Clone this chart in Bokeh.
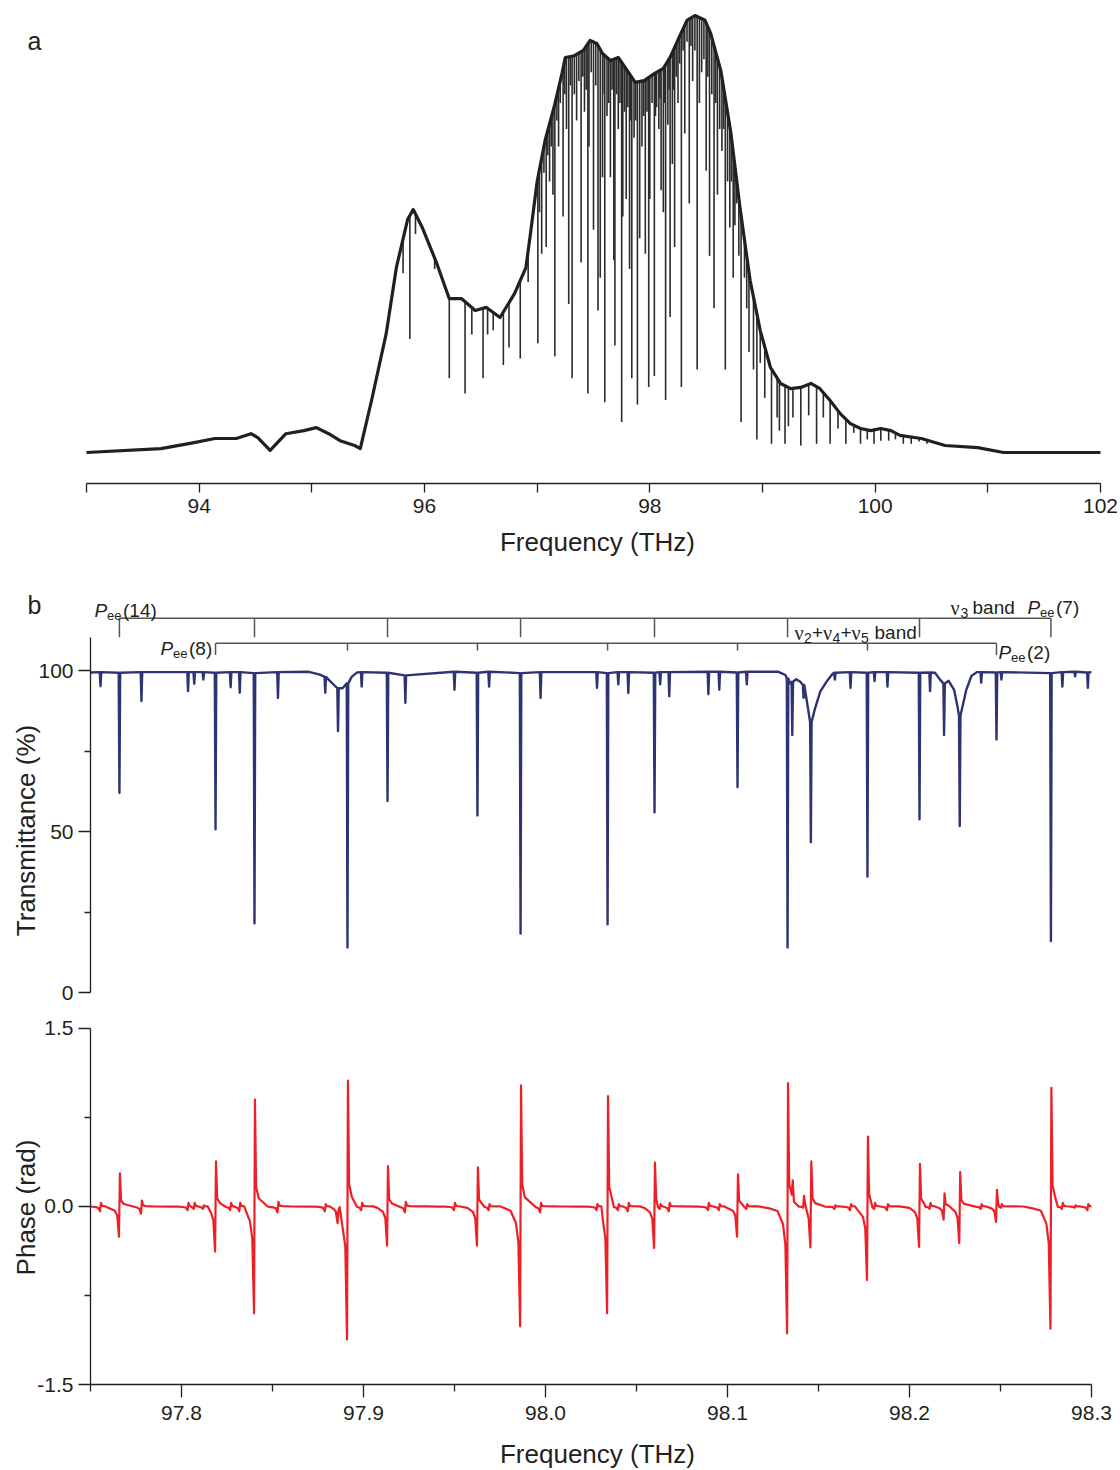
import numpy as np
from bokeh.plotting import figure
from bokeh.layouts import column
from bokeh.models import Range1d, FixedTicker, Label, PrintfTickFormatter
from bokeh.embed import file_html
from bokeh.resources import INLINE

# ---------------- DATA ----------------
# Panel a: spectral envelope (THz, a.u.)
env_freq = [93.00, 93.66, 93.92, 94.14, 94.33, 94.46, 94.52, 94.63, 94.77, 94.93,
            95.04, 95.15, 95.25, 95.38, 95.43, 95.53, 95.66, 95.75, 95.85, 95.90,
            95.98, 96.11, 96.22, 96.33, 96.45, 96.55, 96.67, 96.80, 96.90, 96.94,
            97.00, 97.07, 97.15, 97.22, 97.25, 97.33, 97.41, 97.47, 97.53, 97.58,
            97.65, 97.72, 97.80, 97.87, 97.95, 98.04, 98.12, 98.18, 98.26, 98.33,
            98.40, 98.49, 98.54, 98.63, 98.72, 98.80, 98.89, 98.98, 99.07, 99.16,
            99.25, 99.34, 99.43, 99.51, 99.60, 99.69, 99.78, 99.87, 99.96, 100.05,
            100.14, 100.22, 100.41, 100.62, 100.91, 101.14, 102.00]
env_int = [0.000, 0.009, 0.021, 0.032, 0.032, 0.043, 0.034, 0.005, 0.043, 0.050,
           0.057, 0.043, 0.027, 0.016, 0.009, 0.119, 0.272, 0.423, 0.533, 0.556,
           0.515, 0.432, 0.352, 0.352, 0.325, 0.332, 0.309, 0.364, 0.423, 0.500,
           0.620, 0.714, 0.790, 0.867, 0.904, 0.908, 0.920, 0.943, 0.936, 0.913,
           0.897, 0.904, 0.874, 0.847, 0.851, 0.867, 0.879, 0.904, 0.950, 0.989,
           1.000, 0.989, 0.959, 0.874, 0.730, 0.561, 0.394, 0.279, 0.195, 0.158,
           0.146, 0.149, 0.158, 0.146, 0.119, 0.089, 0.066, 0.055, 0.050, 0.055,
           0.050, 0.039, 0.032, 0.016, 0.011, 0.000, 0.000]

# Panel a: absorption lines (THz, bottom of the line in a.u.)
abs_freq = [95.81, 95.87, 95.92, 96.09, 96.22, 96.36, 96.42, 96.52, 96.56, 96.61,
            96.70, 96.75, 96.85, 96.92, 97.006, 97.04, 97.08, 97.11, 97.14, 97.157,
            97.19, 97.23, 97.26, 97.28, 97.31, 97.35, 97.39, 97.42, 97.45, 97.46,
            97.50, 97.54, 97.56, 97.58, 97.60, 97.62, 97.65, 97.68, 97.69, 97.72,
            97.75, 97.76, 97.79, 97.82, 97.84, 97.86, 97.89, 97.91, 97.93, 97.96,
            97.99, 98.00, 98.04, 98.06, 98.08, 98.10, 98.12, 98.14, 98.16, 98.18,
            98.20, 98.22, 98.25, 98.28, 98.31, 98.35, 98.38, 98.42, 98.44, 98.46,
            98.50, 98.53, 98.57, 98.60, 98.62, 98.64, 98.67, 98.69, 98.71, 98.74,
            98.77, 98.79, 98.81, 98.84, 98.86, 98.88, 98.92, 98.95, 98.98, 99.02,
            99.08, 99.13, 99.15, 99.20, 99.23, 99.27, 99.34, 99.41, 99.48, 99.54,
            99.60, 99.67, 99.74, 99.81, 99.87, 99.93, 99.99, 100.05, 100.12, 100.18,
            100.25, 100.32, 100.39, 100.46,
            97.02, 97.06, 97.095, 97.125, 97.175, 97.205, 97.245, 97.295, 97.33, 97.37,
            97.405, 97.435, 97.48, 97.52, 97.595, 97.635, 97.665, 97.705, 97.735, 97.775,
            97.805, 97.83, 97.875, 97.945, 97.975, 98.02, 98.05, 98.09, 98.13, 98.17,
            98.21, 98.235, 98.265, 98.295, 98.33, 98.365, 98.40, 98.48, 98.515, 98.55,
            98.585, 98.655, 98.725, 98.755]
abs_int = [0.41, 0.26, 0.50, 0.42, 0.17, 0.135, 0.27, 0.17, 0.27, 0.28,
           0.20, 0.24, 0.215, 0.39, 0.25, 0.455, 0.47, 0.62, 0.59, 0.22,
           0.70, 0.54, 0.74, 0.34, 0.17, 0.76, 0.435, 0.78, 0.135, 0.70,
           0.51, 0.325, 0.40, 0.63, 0.115, 0.77, 0.63, 0.44, 0.245, 0.74,
           0.07, 0.54, 0.58, 0.42, 0.17, 0.72, 0.11, 0.49, 0.70, 0.455,
           0.15, 0.58, 0.175, 0.79, 0.74, 0.60, 0.55, 0.12, 0.75, 0.31,
           0.66, 0.47, 0.80, 0.15, 0.73, 0.57, 0.85, 0.19, 0.80, 0.87,
           0.645, 0.45, 0.33, 0.59, 0.74, 0.69, 0.19, 0.62, 0.515, 0.40,
           0.57, 0.45, 0.07, 0.40, 0.33, 0.23, 0.19, 0.03, 0.205, 0.125,
           0.02, 0.08, 0.05, 0.02, 0.06, 0.08, 0.016, 0.085, 0.02, 0.08,
           0.02, 0.055, 0.02, 0.045, 0.02, 0.03, 0.02, 0.027, 0.027, 0.03,
           0.02, 0.02, 0.025, 0.02,
           0.55, 0.64, 0.68, 0.70, 0.76, 0.80, 0.82, 0.84, 0.82, 0.85,
           0.86, 0.83, 0.87, 0.84, 0.82, 0.80, 0.83, 0.82, 0.80, 0.78,
           0.79, 0.76, 0.76, 0.77, 0.78, 0.80, 0.77, 0.81, 0.80, 0.83,
           0.83, 0.86, 0.89, 0.92, 0.94, 0.93, 0.92, 0.90, 0.86, 0.82,
           0.80, 0.74, 0.62, 0.52]

# Panel b: absorption features (THz), transmittance minimum and local shoulder (%)
trans_freq = [97.7555, 97.7659, 97.7780, 97.8036, 97.8070, 97.8120, 97.8187, 97.8270, 97.8320, 97.8401,
              97.8530, 97.8790, 97.8860, 97.8912, 97.8990, 97.9132, 97.9230, 97.9500, 97.9626, 97.9690,
              97.9863, 97.9973, 98.0283, 98.0341, 98.0400, 98.0455, 98.0599, 98.0630, 98.0680, 98.0895,
              98.0955, 98.1055, 98.1106, 98.1330, 98.1356, 98.1418, 98.1458, 98.1590, 98.1676, 98.1769,
              98.1808, 98.1879, 98.2055, 98.2113, 98.2190, 98.2276, 98.2394, 98.2478, 98.2505, 98.2777,
              98.2840, 98.2910, 98.2980]
trans_min = [95.1, 62.0, 90.5, 93.6, 95.9, 97.2, 50.7, 94.8, 93.1, 21.5,
             91.5, 93.1, 81.2, 14.0, 95.0, 59.5, 90.0, 94.0, 55.0, 95.0,
             18.3, 91.5, 94.6, 21.2, 95.7, 93.0, 56.0, 95.7, 92.0, 92.6,
             94.0, 63.8, 95.7, 14.0, 80.0, 91.5, 46.7, 97.2, 94.6, 36.0,
             96.7, 95.0, 53.8, 93.6, 80.0, 51.7, 96.2, 78.6, 97.2, 16.0,
             95.0, 98.2, 94.6]
trans_top = [99.5, 99.3, 99.5, 99.5, 99.5, 99.5, 99.3, 99.5, 99.5, 99.2,
             99.5, 98.0, 94.5, 96.0, 99.5, 99.3, 98.5, 99.6, 99.3, 99.6,
             99.2, 99.5, 99.5, 99.2, 99.5, 99.5, 99.3, 99.5, 99.5, 99.6,
             99.6, 99.4, 99.6, 97.5, 96.5, 95.5, 84.0, 99.3, 99.5, 99.3,
             99.5, 99.5, 99.3, 99.4, 96.0, 86.0, 99.5, 99.4, 99.5, 99.2,
             99.5, 99.6, 99.4]
# slowly varying baseline / broad wings of the transmittance trace (THz, %)
base_freq = [97.7500, 97.8700, 97.8760, 97.8815, 97.8838, 97.8885, 97.8935, 97.8965,
             98.1280, 98.1318, 98.1343, 98.1378, 98.1400, 98.1436, 98.1480, 98.1510, 98.1550, 98.1578,
             98.2140, 98.2170, 98.2215, 98.2245, 98.2263, 98.2292, 98.2312, 98.2340, 98.2370, 98.3000]
base_val = [99.4, 99.6, 98.7, 96.8, 95.5, 94.5, 98.0, 99.4,
            99.6, 98.6, 96.0, 97.3, 96.5, 90.5, 88.0, 93.5, 97.0, 99.0,
            99.3, 97.0, 96.8, 94.0, 89.0, 89.0, 94.0, 98.3, 99.5, 99.5]

# Panel b: phase excursions at each feature (rad)
phase_max = [0.03, 0.28, 0.05, 0.03, 0.03, 0.01, 0.38, 0.03, 0.03, 0.90,
             0.04, 0.02, -0.03, 1.06, 0.03, 0.34, 0.04, 0.03, 0.33, 0.02,
             1.02, 0.03, 0.02, 0.93, 0.02, 0.03, 0.37, 0.02, 0.03, 0.03,
             0.02, 0.27, 0.02, 1.04, 0.22, 0.09, 0.38, 0.01, 0.02, 0.59,
             0.03, 0.02, 0.36, 0.03, 0.11, 0.29, 0.02, 0.14, 0.02, 1.00,
             0.03, 0.01, 0.02]
phase_min = [-0.04, -0.255, -0.06, -0.03, -0.02, -0.02, -0.38, -0.03, -0.04, -0.90,
             -0.05, -0.04, -0.14, -1.12, -0.03, -0.33, -0.05, -0.03, -0.33, -0.03,
             -1.01, -0.05, -0.03, -0.90, -0.03, -0.04, -0.35, -0.02, -0.04, -0.03,
             -0.03, -0.255, -0.02, -1.07, 0.10, -0.01, -0.345, -0.02, -0.03, -0.62,
             -0.02, -0.03, -0.34, -0.02, -0.11, -0.31, -0.02, -0.13, -0.01, -1.03,
             -0.02, -0.01, -0.03]

# line assignments
nu3_lines = [97.7659, 97.8401, 97.9132, 97.9863, 98.0599, 98.1330, 98.2055, 98.2777]   # Pee(14)..Pee(7)
comb_lines = [97.8187, 97.8912, 97.9626, 98.0341, 98.1055, 98.1769, 98.2478]           # Pee(8)..Pee(2)

# ---------------- styling ----------------
INK = "#231f20"
FONT = "Liberation Sans"
SERIF = "Liberation Serif"
NAVY = "#2e3473"
RED = "#ee2027"
BRK = "#555555"
W = 1118


def style_axis(ax, tick_out, minor_out, standoff=5):
    ax.axis_line_color = INK
    ax.axis_line_width = 1.3
    ax.major_tick_line_color = INK
    ax.minor_tick_line_color = INK
    ax.major_tick_line_width = 1.3
    ax.minor_tick_line_width = 1.3
    ax.major_tick_in = 0
    ax.minor_tick_in = 0
    ax.major_tick_out = tick_out
    ax.minor_tick_out = minor_out
    ax.major_label_standoff = standoff
    ax.major_label_text_font = FONT
    ax.major_label_text_font_size = "21px"
    ax.major_label_text_color = INK


def base_fig(**kw):
    p = figure(output_backend="svg", toolbar_location=None, title=None,
               min_border_left=0, min_border_right=0, min_border_top=0, min_border_bottom=0, **kw)
    p.xgrid.visible = False
    p.ygrid.visible = False
    p.outline_line_color = None
    p.background_fill_color = "white"
    p.border_fill_color = "white"
    return p


def add_text(p, fx, fy, text, px, py, size=19, style="normal", font=FONT,
             align="left", baseline="alphabetic", angle=0.0):
    p.add_layout(Label(x=fx(px), y=fy(py), text=text, text_font=font,
                       text_font_size=f"{size}px", text_font_style=style,
                       text_color=INK, text_align=align, text_baseline=baseline,
                       angle=angle))


# ---------------- panel a (page y 0..560) ----------------
A_L, A_R, A_B = 86, 1100, 483          # page px of 93 THz, 102 THz, axis line
A_ZERO, A_PX = 452, 437.0              # page y of zero level, px per a.u.
A_XPX = (A_R - A_L) / 9.0
fx1 = lambda px: 93 + (px - A_L) / A_XPX
fy1 = lambda py: (A_ZERO - py) / A_PX

p1 = base_fig(width=W, height=560, x_range=Range1d(fx1(0), fx1(W)),
              y_range=Range1d(fy1(560), fy1(0)), y_axis_location=None)

tops = np.interp(abs_freq, env_freq, env_int)
p1.segment(x0=abs_freq, y0=abs_int, x1=abs_freq, y1=tops, line_color="#2b2b2b", line_width=1.6)
p1.line(env_freq, env_int, line_color=INK, line_width=3.2, line_join="round")

ax = p1.xaxis[0]
ax.fixed_location = fy1(A_B)
ax.ticker = FixedTicker(ticks=[94, 96, 98, 100, 102], minor_ticks=[93, 95, 97, 99, 101])
ax.bounds = (93, 102)
style_axis(ax, 9, 9, standoff=6)
add_text(p1, fx1, fy1, "Frequency (THz)", 597, 541, size=26, align="center")
add_text(p1, fx1, fy1, "a", 27, 40, size=25)

# ---------------- panel b, transmittance (page y 560..1005) ----------------
B_L, B_R = 90, 1091                    # page px of 97.75 / 98.30 THz
X_PX = (B_R - B_L) / 0.55
fx2 = lambda px: 97.75 + (px - B_L) / X_PX
B_B, T_PX = 992, 3.22                  # page y of 0 %, px per %
fy2 = lambda py: (B_B - py) / T_PX

p2 = base_fig(width=W, height=445, x_range=Range1d(fx2(0), fx2(W)),
              y_range=Range1d(fy2(1005), fy2(560)), x_axis_location=None)

DIP_HALF = 0.0004
pts = list(zip(base_freq, base_val))
for f, lo, top in zip(trans_freq, trans_min, trans_top):
    pts += [(f - DIP_HALF, top), (f, lo), (f + DIP_HALF, top)]
pts.sort()
p2.line([q[0] for q in pts], [q[1] for q in pts], line_color=NAVY, line_width=2.4, line_join="round")

ay = p2.yaxis[0]
ay.fixed_location = 97.75
ay.ticker = FixedTicker(ticks=[0, 50, 100], minor_ticks=[25, 75])
ay.bounds = (0, fy2(636.7))
style_axis(ay, 12, 6, standoff=5)
add_text(p2, fx2, fy2, "Transmittance (%)", 25, 830, size=26, align="center",
         baseline="middle", angle=np.pi / 2)
add_text(p2, fx2, fy2, "b", 27, 604, size=25)

# assignment brackets
y1_line, y1_tick = fy2(617.7), fy2(636.7)
y2_line, y2_tick, y2_end = fy2(642.7), fy2(650.0), fy2(654.5)
p2.segment(x0=[nu3_lines[0]], x1=[nu3_lines[-1]], y0=[y1_line], y1=[y1_line], line_color=BRK, line_width=1.5)
p2.segment(x0=nu3_lines, x1=nu3_lines, y0=[y1_line] * len(nu3_lines), y1=[y1_tick] * len(nu3_lines),
           line_color=BRK, line_width=1.5)
p2.segment(x0=[comb_lines[0]], x1=[comb_lines[-1]], y0=[y2_line], y1=[y2_line], line_color=BRK, line_width=1.5)
c_ends = [y2_end if i in (0, len(comb_lines) - 1) else y2_tick for i in range(len(comb_lines))]
p2.segment(x0=comb_lines, x1=comb_lines, y0=[y2_line] * len(comb_lines), y1=c_ends,
           line_color=BRK, line_width=1.5)


def pee(p, x, yb, n):
    add_text(p, fx2, fy2, "P", x, yb, size=19, style="italic")
    add_text(p, fx2, fy2, "ee", x + 12.5, yb + 4.5, size=13)
    add_text(p, fx2, fy2, f"({n})", x + 28.5, yb, size=19)


pee(p2, 94, 610, 14)
pee(p2, 160, 648, 8)
pee(p2, 1027, 607, 7)
pee(p2, 998, 652, 2)
# nu3 band
add_text(p2, fx2, fy2, "\u03bd", 950, 607, size=20, font=SERIF)
add_text(p2, fx2, fy2, "3", 960, 612, size=14)
add_text(p2, fx2, fy2, "band", 972, 607, size=19)
# nu2+nu4+nu5 band
xb = 794
for sub in ["2", "4", "5"]:
    add_text(p2, fx2, fy2, "\u03bd", xb, 632, size=20, font=SERIF)
    add_text(p2, fx2, fy2, sub, xb + 9.5, 637, size=14)
    if sub != "5":
        add_text(p2, fx2, fy2, "+", xb + 17.5, 632, size=19)
    xb += 28.5
add_text(p2, fx2, fy2, "band", 874, 632, size=19)

# ---------------- panel b, phase (page y 1005..1470) ----------------
C_B, P_PX = 1384, 118.67               # page y of -1.5 rad, px per rad
fy3 = lambda py: -1.5 + (C_B - py) / P_PX

p3 = base_fig(width=W, height=465, x_range=Range1d(fx2(0), fx2(W)),
              y_range=Range1d(fy3(1470), fy3(1005)))

SPIKE = 0.00025
PRE = [(0.010, 0.015), (0.0055, 0.035), (0.0025, 0.14), (0.0012, 0.30)]
POST = [(0.0009, 0.18), (0.0024, 0.075), (0.0063, 0.022), (0.012, 0.005)]
ppts = [(97.75, 0.0), (98.30, 0.0)]
n = len(trans_freq)
for i, f in enumerate(trans_freq):
    lo, hi = phase_min[i], phase_max[i]
    gl = f - trans_freq[i - 1] if i > 0 else 2 * (f - 97.75)
    gr = trans_freq[i + 1] - f if i < n - 1 else 2 * (98.30 - f)
    for d, k in PRE:
        if d < 0.45 * gl:
            ppts.append((f - d, k * lo))
    ppts += [(f - SPIKE, lo), (f + SPIKE, hi)]
    for d, k in POST:
        if d < 0.45 * gr:
            ppts.append((f + d, k * hi))
ppts.sort()
p3.line([q[0] for q in ppts], [q[1] for q in ppts], line_color=RED, line_width=2.2, line_join="round")

ay3 = p3.yaxis[0]
ay3.fixed_location = 97.75
ay3.ticker = FixedTicker(ticks=[-1.5, 0.0, 1.5], minor_ticks=[-0.75, 0.75])
ay3.bounds = (-1.5, 1.5)
ay3.formatter = PrintfTickFormatter(format="%.1f")
style_axis(ay3, 12, 6, standoff=5)
ax3 = p3.xaxis[0]
ax3.fixed_location = -1.5
ax3.ticker = FixedTicker(ticks=[97.8, 97.9, 98.0, 98.1, 98.2, 98.3],
                         minor_ticks=[97.75, 97.85, 97.95, 98.05, 98.15, 98.25])
ax3.bounds = (97.75, 98.30)
ax3.formatter = PrintfTickFormatter(format="%.1f")
style_axis(ax3, 13, 7, standoff=8)
add_text(p3, fx2, fy3, "Frequency (THz)", 597, 1453, size=26, align="center")
add_text(p3, fx2, fy3, "Phase (rad)", 25, 1207, size=26, align="center",
         baseline="middle", angle=np.pi / 2)

layout = column(p1, p2, p3, spacing=0)
open("out.html", "w").write(file_html(layout, INLINE))
